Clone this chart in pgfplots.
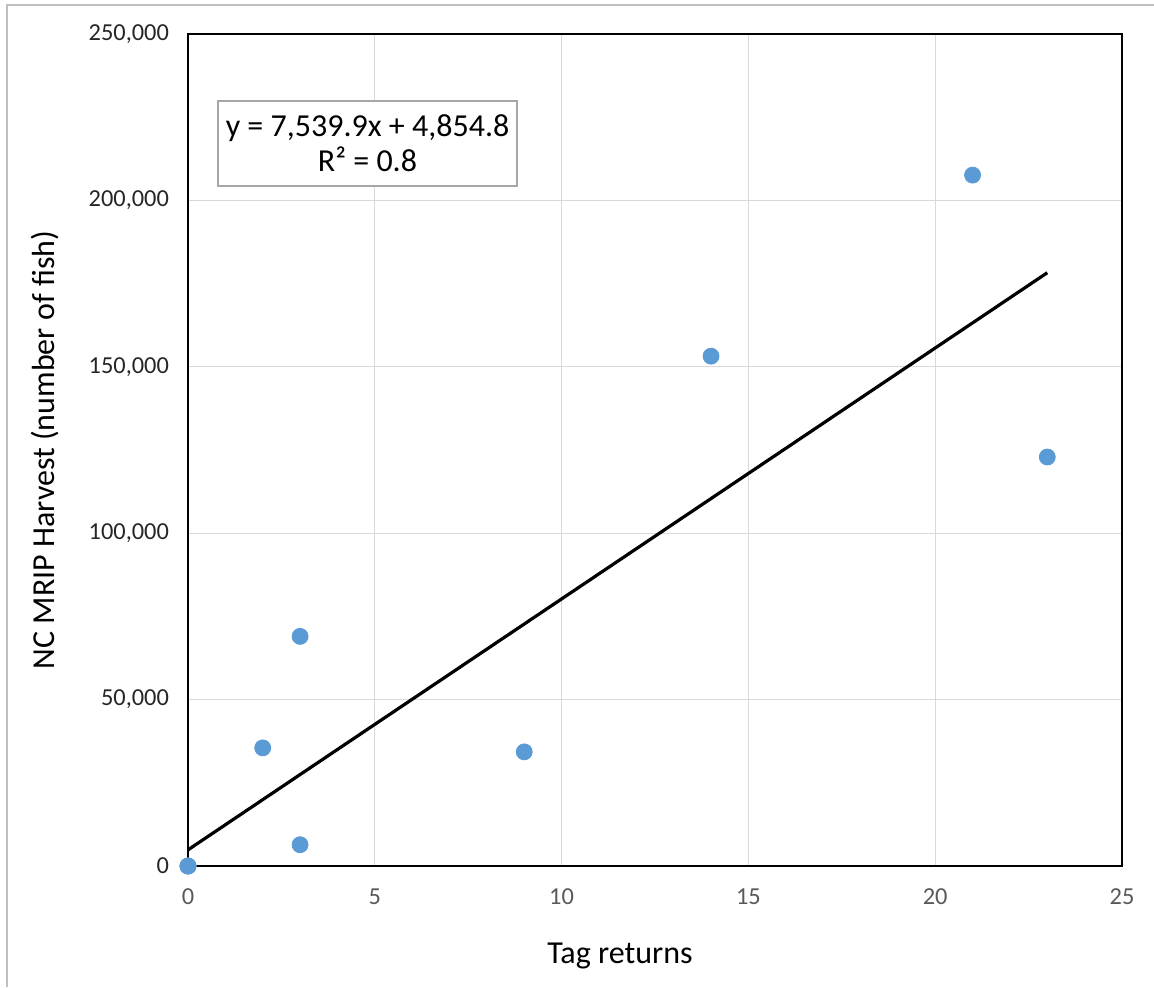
\documentclass[border=0pt]{standalone}
\usepackage{pgfplots}
\pgfplotsset{compat=1.18}
\usepackage{fontspec}
\setmainfont{Carlito}
\definecolor{ptblue}{HTML}{5B9BD5}
\definecolor{gridgray}{HTML}{D9D9D9}
\definecolor{framegray}{HTML}{BFBFBF}
\definecolor{ytickc}{HTML}{262626}
\definecolor{xtickc}{HTML}{595959}
\begin{document}
\begin{tikzpicture}[x=1pt,y=1pt]
\useasboundingbox (0,0) rectangle (577,493.5);
\draw[framegray, line width=1pt] (3.5,0) -- (3.5,491) -- (577,491);
\begin{axis}[
  at={(94pt,60.5pt)}, anchor=south west,
  scale only axis, width=467pt, height=416pt,
  xmin=0, xmax=25, ymin=0, ymax=250000,
  xtick={0,5,10,15,20,25}, ytick={0,50000,100000,150000,200000,250000},
  xticklabels={0,5,10,15,20,25},
  yticklabels={0,{50,000},{100,000},{150,000},{200,000},{250,000}},
  scaled y ticks=false,
  grid=major, grid style={gridgray, line width=0.6pt},
  major tick length=0pt,
  axis line style={black, line width=0.8pt},
  tick label style={font=\fontsize{12.2}{14}\selectfont},
  xticklabel style={xtickc, yshift=-8pt},
  yticklabel style={ytickc, xshift=-6pt},
  xlabel={Tag returns},
  ylabel={NC MRIP Harvest (number of fish)},
  label style={font=\fontsize{16}{18}\selectfont, black},
  xlabel style={at={(axis description cs:0.5,0)}, anchor=center, yshift=-45pt, xshift=-17.5pt},
  ylabel style={at={(axis description cs:0,0.5)}, anchor=center, rotate=0, yshift=71.5pt},
  clip=false,
]
\addplot[only marks, mark=*, mark size=4pt, mark options={fill=ptblue, draw=ptblue}] coordinates {
  (0,0) (0,0) (0,0) (2,35500) (3,69000) (3,6400) (9,34300) (14,153200) (21,207600) (23,122900)
};
\addplot[black, line width=1.6pt] coordinates {(0,4854.8) (23,178272.5)};
\end{axis}
\node[draw={rgb,255:red,166;green,166;blue,166}, line width=1pt, fill=white, minimum width=149.5pt, minimum height=42.5pt, align=center, font=\fontsize{16}{17.5}\selectfont, inner sep=2pt] at (183.75,421.75) {y = 7,539.9x + 4,854.8\\R² = 0.8};
\end{tikzpicture}
\end{document}
